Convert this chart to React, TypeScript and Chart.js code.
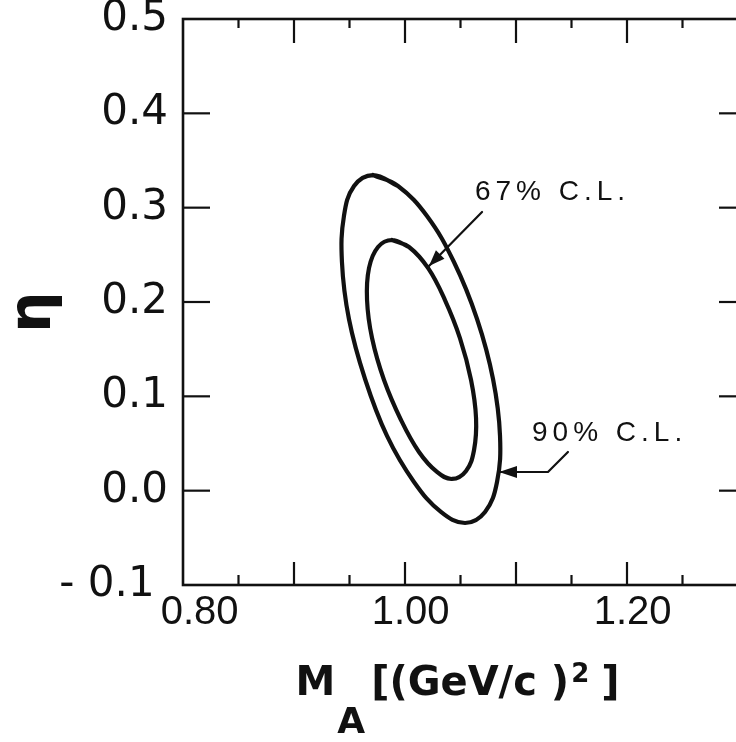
import { useEffect, useRef } from 'react';
import { Chart, registerables } from 'chart.js';

Chart.register(...registerables);

// ---- data ----
// 90% C.L. contour (outer), clockwise from the top
const outerX = [0.9712, 0.9937, 1.0198, 1.0441, 1.0649, 1.0793, 1.0856, 1.0829, 1.0721, 1.0541, 1.0324, 1.0081, 0.9838, 0.9640, 0.9495, 0.9432, 0.9450, 0.9541];
const outerY = [0.3346, 0.3230, 0.2912, 0.2424, 0.1820, 0.1184, 0.0580, 0.0092, -0.0226, -0.0343, -0.0226, 0.0092, 0.0580, 0.1184, 0.1820, 0.2424, 0.2912, 0.3230];
// 67% C.L. contour (inner), clockwise from the top
const innerX = [0.9883, 1.0036, 1.0207, 1.0360, 1.0495, 1.0595, 1.0640, 1.0622, 1.0550, 1.0423, 1.0288, 1.0126, 0.9964, 0.9811, 0.9703, 0.9658, 0.9676, 0.9757];
const innerY = [0.2657, 0.2583, 0.2361, 0.2021, 0.1618, 0.1173, 0.0770, 0.0431, 0.0209, 0.0124, 0.0198, 0.0410, 0.0749, 0.1173, 0.1618, 0.2021, 0.2361, 0.2583];

// annotation arrows (shaft points, last point = tip)
const arrow67X = [1.0694, 1.0216];
const arrow67Y = [0.2954, 0.2382];
const arrow90X = [1.1468, 1.1288, 1.0847];
const arrow90Y = [0.0410, 0.0198, 0.0198];

// annotation labels
const noteTexts = ['67% C.L.', '90% C.L.'];
const noteX = [1.063, 1.1144];
const noteY = [0.308, 0.0527];

// axes
const xMin = 0.8;
const xMax = 1.3;
const yMin = -0.1;
const yMax = 0.5;
const xTickValues = [0.8, 1.0, 1.2];
const xTickLabels = ['0.80', '1.00', '1.20'];
const yTickValues = [-0.1, 0.0, 0.1, 0.2, 0.3, 0.4, 0.5];
const yTickLabels = ['- 0.1', '0.0', '0.1', '0.2', '0.3', '0.4', '0.5'];
const yTitle = 'η';
const xTitleParts = ['M', 'A', '[(GeV/c )', '2', ']'];

const INK = '#111111';

const toPts = (xs: number[], ys: number[]) => xs.map((x, i) => ({ x, y: ys[i] }));
const closed = (xs: number[], ys: number[]) => {
  const p = toPts(xs, ys);
  return [...p, p[0], p[1]];
};
const findIdx = (vals: number[], v: number) => vals.findIndex((t) => Math.abs(t - v) < 1e-6);

const framePlugin = {
  id: 'frameTicks',
  afterDraw(chart: any) {
    const { ctx, chartArea: a, scales } = chart;
    const xs = scales.x;
    const ys = scales.y;
    ctx.save();
    ctx.strokeStyle = INK;
    ctx.lineCap = 'butt';
    ctx.lineWidth = 2.6;
    ctx.strokeRect(a.left, a.top, a.right - a.left, a.bottom - a.top);
    ctx.lineWidth = 2.2;
    const seg = (x1: number, y1: number, x2: number, y2: number) => {
      ctx.beginPath();
      ctx.moveTo(x1, y1);
      ctx.lineTo(x2, y2);
      ctx.stroke();
    };
    xs.ticks.forEach((t: any) => {
      if (Math.abs(t.value - xMin) < 1e-6 || Math.abs(t.value - xMax) < 1e-6) return;
      const px = xs.getPixelForValue(t.value);
      const major = Math.abs(t.value * 10 - Math.round(t.value * 10)) < 1e-6;
      seg(px, a.bottom, px, a.bottom - (major ? 23 : 10));
      seg(px, a.top, px, a.top + (major ? 24 : 9));
    });
    ys.ticks.forEach((t: any) => {
      if (Math.abs(t.value - yMin) < 1e-6 || Math.abs(t.value - yMax) < 1e-6) return;
      const py = ys.getPixelForValue(t.value);
      seg(a.left, py, a.left + 27, py);
      seg(a.right, py, a.right - 19, py);
    });
    ctx.restore();
  },
};

const annotationPlugin = {
  id: 'notes',
  afterDatasetsDraw(chart: any) {
    const { ctx, scales } = chart;
    const xs = scales.x;
    const ys = scales.y;
    ctx.save();
    ctx.fillStyle = INK;
    const head = (axs: number[], ays: number[], len: number, half: number) => {
      const n = axs.length;
      const tx = xs.getPixelForValue(axs[n - 1]);
      const ty = ys.getPixelForValue(ays[n - 1]);
      const fx = xs.getPixelForValue(axs[n - 2]);
      const fy = ys.getPixelForValue(ays[n - 2]);
      const d = Math.hypot(tx - fx, ty - fy) || 1;
      const ux = (tx - fx) / d;
      const uy = (ty - fy) / d;
      const bx = tx - ux * len;
      const by = ty - uy * len;
      ctx.beginPath();
      ctx.moveTo(tx, ty);
      ctx.lineTo(bx - uy * half, by + ux * half);
      ctx.lineTo(bx + uy * half, by - ux * half);
      ctx.closePath();
      ctx.fill();
    };
    head(arrow67X, arrow67Y, 16, 6);
    head(arrow90X, arrow90Y, 18, 6);
    ctx.font = '28px "Liberation Sans", Arial, sans-serif';
    (ctx as any).letterSpacing = '5px';
    ctx.textAlign = 'left';
    ctx.textBaseline = 'alphabetic';
    noteTexts.forEach((t, i) => {
      ctx.fillText(t, xs.getPixelForValue(noteX[i]), ys.getPixelForValue(noteY[i]));
    });
    (ctx as any).letterSpacing = '0px';
    ctx.restore();
  },
};

const xTitlePlugin = {
  id: 'xTitle',
  afterDraw(chart: any) {
    const { ctx, chartArea: a } = chart;
    const fam = '"DejaVu Sans", sans-serif';
    const sizes = [40, 36, 40, 26, 40];
    const dys = [0, 38, 0, -13, 0];
    const gaps = [2, 6, 2, 12, 0];
    ctx.save();
    ctx.fillStyle = INK;
    ctx.textAlign = 'left';
    ctx.textBaseline = 'alphabetic';
    const widths = xTitleParts.map((t, i) => {
      ctx.font = `bold ${sizes[i]}px ${fam}`;
      return ctx.measureText(t).width;
    });
    const total = widths.reduce((s, w, i) => s + w + gaps[i], 0);
    let x = (a.left + a.right) / 2 - 3 - total / 2;
    const base = a.bottom + 110;
    xTitleParts.forEach((t, i) => {
      ctx.font = `bold ${sizes[i]}px ${fam}`;
      ctx.fillText(t, x, base + dys[i]);
      x += widths[i] + gaps[i];
    });
    ctx.restore();
  },
};

export default function App() {
  const ref = useRef<HTMLCanvasElement | null>(null);

  useEffect(() => {
    if (!ref.current) return;
    const lineDs = (label: string, data: any[], width: number, tension: number) => ({
      label,
      data,
      showLine: true,
      borderColor: INK,
      backgroundColor: INK,
      borderWidth: width,
      pointRadius: 0,
      pointHoverRadius: 0,
      fill: false,
      tension,
      borderCapStyle: 'round' as const,
      borderJoinStyle: 'round' as const,
    });
    const chart = new Chart(ref.current, {
      type: 'scatter',
      data: {
        datasets: [
          lineDs('90% C.L.', closed(outerX, outerY), 4.2, 0.4),
          lineDs('67% C.L.', closed(innerX, innerY), 4.2, 0.4),
          lineDs('arrow67', toPts(arrow67X, arrow67Y), 2.2, 0),
          lineDs('arrow90', toPts(arrow90X, arrow90Y), 2.2, 0),
        ],
      },
      options: {
        animation: false,
        responsive: false,
        devicePixelRatio: 1,
        layout: { padding: { top: 19, right: 22, left: 0, bottom: 0 } },
        plugins: { legend: { display: false }, tooltip: { enabled: false } },
        events: [],
        scales: {
          x: {
            type: 'linear',
            position: 'bottom',
            min: xMin,
            max: xMax,
            grid: { display: false, drawTicks: false },
            border: { display: false },
            ticks: {
              stepSize: 0.05,
              autoSkip: false,
              maxRotation: 0,
              minRotation: 0,
              maxTicksLimit: 30,
              padding: 4,
              color: INK,
              font: { family: '"Liberation Sans", Arial, sans-serif', size: 40 },
              callback: (v: any) => {
                const i = findIdx(xTickValues, Number(v));
                if (i < 0) return '';
                return i === 0 ? '   ' + xTickLabels[i] : ' ' + xTickLabels[i];
              },
            },
            afterFit: (s: any) => {
              s.height = 157;
              s.paddingLeft = 0;
              s.paddingRight = 0;
            },
          },
          y: {
            type: 'linear',
            position: 'left',
            min: yMin,
            max: yMax,
            grid: { display: false, drawTicks: false },
            border: { display: false },
            title: {
              display: true,
              text: yTitle + ' ',
              color: INK,
              font: { family: '"DejaVu Sans", sans-serif', size: 58, weight: 'bold' },
              padding: { top: 0, bottom: 0 },
            },
            ticks: {
              stepSize: 0.1,
              autoSkip: false,
              padding: 15,
              color: INK,
              font: { family: '"DejaVu Sans", sans-serif', size: 42 },
              callback: (v: any) => {
                const i = findIdx(yTickValues, Number(v));
                if (i < 0) return '';
                return i === 0 ? yTickLabels[i] + ' ' : yTickLabels[i];
              },
            },
            afterFit: (s: any) => {
              s.width = 183;
              s.paddingTop = 0;
              s.paddingBottom = 0;
            },
          },
        },
      },
      plugins: [framePlugin, annotationPlugin, xTitlePlugin],
    } as any);
    return () => chart.destroy();
  }, []);

  return (
    <div
      style={{
        position: 'fixed',
        left: 0,
        top: 0,
        width: 736,
        height: 742,
        overflow: 'hidden',
        background: '#ffffff',
      }}
    >
      <canvas ref={ref} width={760} height={742} style={{ display: 'block', width: 760, height: 742 }} />
    </div>
  );
}
